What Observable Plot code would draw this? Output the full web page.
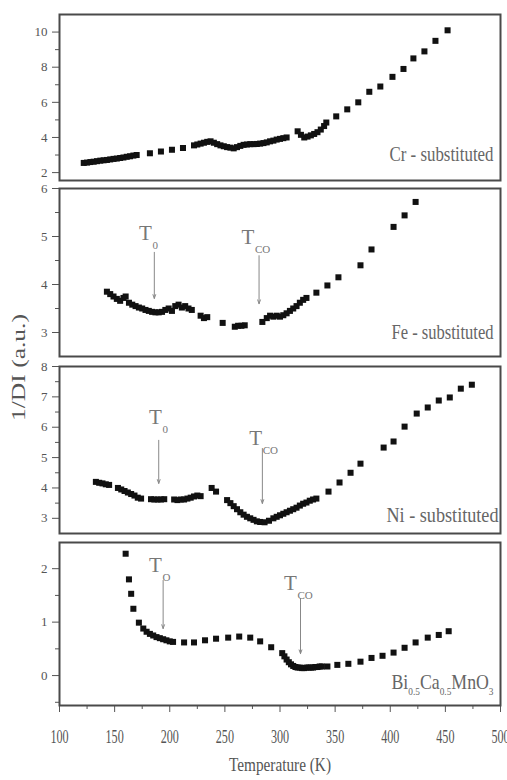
<!DOCTYPE html>
<html><head><meta charset="utf-8">
<script src="https://cdn.jsdelivr.net/npm/d3@7"></script>
<script src="https://cdn.jsdelivr.net/npm/@observablehq/plot@0.6"></script>
<style>
body{margin:0;background:#fff;}
#chart{position:relative;width:507px;height:780px;overflow:hidden;background:#fff;}
#chart > svg{position:absolute;left:0;}
</style></head><body><div id="chart"></div>
<script>
// ---------- data ----------
const xMajor = [100,150,200,250,300,350,400,450,500];
const xMinor = [125,175,225,275,325,375,425,475];

const crT = [122,125,128,131,134,137,140,143,146,149,152,155,158,161,164,167,170,182,192,202,212,222,225,228,231,234,237,240,243,246,249,252,255,258,261,264,267,270,273,276,279,282,285,288,291,294,297,300,303,306,316,319,322,325,328,331,334,337,340,342,351,361,371,381,391,402,412,421,431,441,452];
const crV = [2.55,2.57,2.6,2.62,2.65,2.68,2.7,2.72,2.75,2.78,2.8,2.83,2.86,2.9,2.93,2.97,3.0,3.1,3.2,3.3,3.4,3.55,3.6,3.65,3.7,3.75,3.78,3.7,3.62,3.55,3.5,3.45,3.42,3.38,3.45,3.52,3.58,3.6,3.62,3.62,3.63,3.65,3.68,3.72,3.78,3.82,3.88,3.92,3.96,4.0,4.35,4.15,4.0,4.05,4.12,4.2,4.3,4.45,4.65,4.85,5.2,5.6,6.0,6.6,6.9,7.45,7.9,8.5,8.9,9.5,10.1];
const crYTicks = [2,4,6,8,10];
const crYMinor = [3,5,7,9];

const feT = [143,146,149,152,155,158,160,163,166,169,172,175,178,181,184,187,190,193,196,199,202,205,208,211,214,217,220,228,231,234,248,259,262,265,268,284,288,291,294,297,300,303,306,309,312,315,318,321,324,333,343,353,373,383,403,413,423];
const feV = [3.85,3.8,3.75,3.7,3.66,3.72,3.75,3.62,3.58,3.55,3.52,3.5,3.47,3.45,3.43,3.42,3.42,3.43,3.47,3.5,3.45,3.55,3.58,3.52,3.55,3.5,3.47,3.35,3.3,3.32,3.2,3.12,3.14,3.14,3.15,3.22,3.3,3.35,3.33,3.35,3.33,3.36,3.4,3.45,3.5,3.55,3.62,3.68,3.72,3.83,3.98,4.15,4.4,4.73,5.2,5.44,5.72];
const feYTicks = [3,4,5,6];
const feYMinor = [3.5,4.5,5.5];

const niT = [133,136,139,142,145,153,156,159,162,165,168,171,174,183,186,189,192,195,204,207,210,213,216,219,222,225,228,238,242,252,255,258,261,264,267,270,273,276,279,282,286,290,294,297,300,303,306,309,312,315,318,321,324,327,330,333,344,354,364,373,394,403,413,424,434,444,454,464,474];
const niV = [4.2,4.17,4.15,4.12,4.1,4.0,3.95,3.9,3.85,3.8,3.75,3.68,3.65,3.63,3.62,3.62,3.62,3.63,3.62,3.6,3.62,3.62,3.65,3.68,3.72,3.75,3.73,4.0,3.88,3.6,3.5,3.4,3.3,3.2,3.12,3.05,3.0,2.95,2.9,2.88,2.87,2.92,3.0,3.05,3.1,3.15,3.2,3.25,3.3,3.35,3.42,3.48,3.52,3.58,3.62,3.65,3.88,4.18,4.5,4.8,5.33,5.53,6.02,6.45,6.65,6.88,6.98,7.27,7.4];
const niYTicks = [3,4,5,6,7,8];
const niYMinor = [3.5,4.5,5.5,6.5,7.5];

const biT = [160,163,165,167,172,176,179,182,185,188,191,194,197,200,203,213,222,232,242,253,263,273,282,292,302,304,306,308,310,312,314,316,318,320,322,324,326,328,330,332,334,336,338,343,352,362,373,383,393,403,413,423,434,444,453];
const biV = [2.28,1.8,1.53,1.25,0.99,0.88,0.82,0.78,0.75,0.72,0.7,0.68,0.66,0.64,0.63,0.62,0.62,0.66,0.69,0.71,0.73,0.71,0.64,0.53,0.42,0.36,0.3,0.25,0.21,0.18,0.16,0.15,0.15,0.14,0.14,0.15,0.15,0.15,0.15,0.16,0.16,0.17,0.17,0.17,0.2,0.22,0.26,0.33,0.37,0.43,0.52,0.62,0.71,0.76,0.83];
const biYTicks = [0,1,2];
const biYMinor = [-0.5,0.5,1.5];

// annotations: arrow temperature, arrow top, arrow tip, label position, subscript
const feArrowT = [186,281], feArrowTop = [4.67,4.6], feArrowTip = [3.71,3.6], feLabT = [178,271], feLabV = [5.06,4.98], feSub = ["0","CO"];
const niArrowT = [190,284], niArrowTop = [5.57,5.3], niArrowTip = [4.15,3.49], niLabT = [187,278], niLabV = [6.32,5.63], niSub = ["0","CO"];
const biArrowT = [194,318.6], biArrowTop = [1.78,1.44], biArrowTip = [0.88,0.41], biLabT = [187,309.5], biLabV = [2.06,1.72], biSub = ["O","CO"];

// ---------- layout ----------
const W = 507, ML = 59, MR = 7;
const GRAY = "#555";
const panels = [
  {name:"Cr - substituted", T:crT, V:crV, dom:[1.55,11], major:crYTicks, minor:crYMinor, top:0, h:184, mt:14, mb:4, ldy:-20, ldx:-7, llen:104},
  {name:"Fe - substituted", T:feT, V:feV, dom:[2.5,6], major:feYTicks, minor:feYMinor, top:184, h:176, mt:4, mb:4, ldy:-18, ldx:-7, llen:102,
   ann:{T:feArrowT, top:feArrowTop, tip:feArrowTip, lt:feLabT, lv:feLabV, sub:feSub}},
  {name:"Ni - substituted", T:niT, V:niV, dom:[2.5,8], major:niYTicks, minor:niYMinor, top:360, h:177, mt:6, mb:4, ldy:-12, ldx:-2, llen:112,
   ann:{T:niArrowT, top:niArrowTop, tip:niArrowTip, lt:niLabT, lv:niLabV, sub:niSub}, ylabel:true},
  {name:"BiCaMnO", T:biT, V:biV, dom:[-0.56,2.49], major:biYTicks, minor:biYMinor, top:537, h:243, mt:5, mb:75, ldy:-17, ldx:-7, llen:102,
   ann:{T:biArrowT, top:biArrowTop, tip:biArrowTip, lt:biLabT, lv:biLabV, sub:biSub}, xaxis:true}
];

const chart = document.getElementById("chart");

panels.forEach(p => {
  const rows = p.T.map((T, i) => ({T, v: p.V[i]}));
  const marks = [
    Plot.axisY({ticks:p.major, tickSize:7, tickPadding:5, fontSize:13, color:GRAY, label:null, tickFormat:d => String(d)}),
    Plot.axisY({ticks:p.minor, tickSize:4, color:GRAY, label:null, tickFormat:() => ""}),
    Plot.dot(rows, {x:"T", y:"v", symbol:"square", r:3.4, fill:"#111"}),
    Plot.text([p.name], {frameAnchor:"bottom-right", dx:p.ldx, dy:p.ldy, textAnchor:"end", lineAnchor:"bottom", fontSize:21, fill:"#666"})
  ];
  if (p.ann) {
    const a = p.ann;
    const arows = a.T.map((T, i) => ({T, top:a.top[i], tip:a.tip[i], lt:a.lt[i], lv:a.lv[i], sub:a.sub[i]}));
    marks.push(
      Plot.arrow(arows, {x1:"T", x2:"T", y1:"top", y2:"tip", stroke:"#888", strokeWidth:1, headLength:6, headAngle:40}),
      Plot.text(arows, {x:"lt", y:"lv", text:() => "T", fontSize:21, fill:"#777"}),
      Plot.text(arows, {x:"lt", y:"lv", text:"sub", dx:7, dy:12, textAnchor:"start", fontSize:11, fill:"#777"})
    );
  }
  if (p.xaxis) {
    marks.push(
      Plot.axisX({ticks:xMajor, tickSize:7, tickPadding:17, fontSize:19, color:GRAY, label:null, tickFormat:d => String(d)}),
      Plot.axisX({ticks:xMinor, tickSize:4, color:GRAY, label:null, tickFormat:() => ""}),
      Plot.text(["Temperature (K)"], {frameAnchor:"bottom", dy:65, fontSize:19, fill:"#555"})
    );
  }
  if (p.ylabel) {
    marks.push(Plot.text(["1/DI (a.u.)"], {frameAnchor:"left", dx:-40, dy:-29, rotate:-90, textAnchor:"start", fontSize:18, fill:"#555"}));
  }
  marks.push(Plot.frame({stroke:"#4a4a4a", strokeWidth:2}));

  const svg = Plot.plot({
    width: W, height: p.h,
    marginLeft: ML, marginRight: MR, marginTop: p.mt, marginBottom: p.mb,
    x: {domain:[100,500], axis:null},
    y: {domain:p.dom, axis:null},
    style: {fontFamily:"'Liberation Serif', serif", background:"transparent", overflow:"visible"},
    marks
  });
  svg.style.top = p.top + "px";
  chart.appendChild(svg);

  // condensed (tall, narrow) lettering of the original
  svg.querySelectorAll("text").forEach(t => {
    const s = t.textContent;
    if (s === p.name && p.name !== "BiCaMnO") {
      t.setAttribute("textLength", p.llen); t.setAttribute("lengthAdjust", "spacingAndGlyphs");
    } else if (s === "BiCaMnO") {
      const sel = d3.select(t); sel.text("");
      const parts = [["Bi",0],["0.5",1],["Ca",0],["0.5",1],["MnO",0],["3",1]];
      let down = false;
      parts.forEach(([txt, sub]) => {
        const ts = sel.append("tspan").text(txt);
        if (sub) { ts.attr("font-size", 11).attr("dy", 6); down = true; }
        else if (down) { ts.attr("dy", -6); down = false; }
      });
      t.setAttribute("textLength", p.llen); t.setAttribute("lengthAdjust", "spacingAndGlyphs");
    } else if (s === "Temperature (K)") {
      t.setAttribute("textLength", 102); t.setAttribute("lengthAdjust", "spacingAndGlyphs");
    } else if (s === "1/DI (a.u.)") {
      t.setAttribute("textLength", 107); t.setAttribute("lengthAdjust", "spacingAndGlyphs");
    } else if (p.xaxis && /^\d{3}$/.test(s)) {
      const w = t.getComputedTextLength();
      t.setAttribute("textLength", (w * 0.64).toFixed(1)); t.setAttribute("lengthAdjust", "spacingAndGlyphs");
    }
  });
});
</script>
</body></html>
